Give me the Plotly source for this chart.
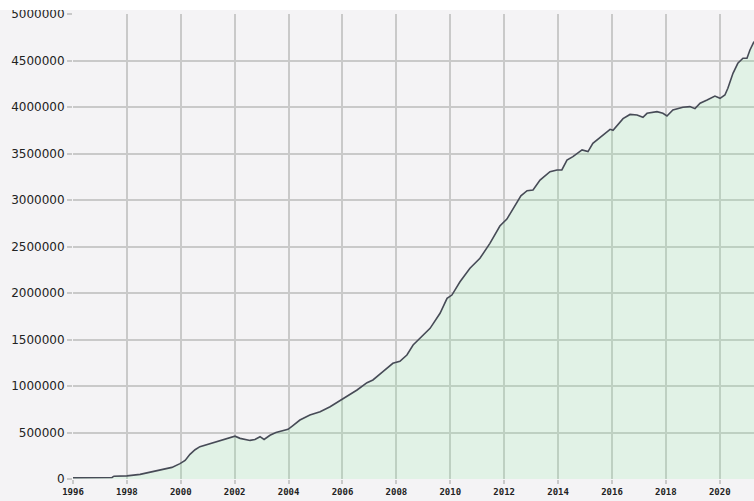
import plotly.graph_objects as go

years = [1996.0, 1997.0, 1997.45, 1997.52, 1998.0, 1998.49, 1998.97, 1999.41, 1999.67, 1999.97,
         2000.16, 2000.34, 2000.53, 2000.71, 2001.08, 2001.45, 2001.83, 2002.01, 2002.2, 2002.57,
         2002.75, 2002.94, 2003.09, 2003.31, 2003.53, 2003.79, 2003.98, 2004.16, 2004.42, 2004.79,
         2005.17, 2005.54, 2006.02, 2006.54, 2006.91, 2007.13, 2007.5, 2007.87, 2008.13, 2008.39,
         2008.62, 2008.88, 2009.06, 2009.25, 2009.62, 2009.88, 2010.06, 2010.36, 2010.73, 2011.1,
         2011.47, 2011.84, 2012.1, 2012.33, 2012.62, 2012.85, 2013.07, 2013.33, 2013.7, 2013.96,
         2014.14, 2014.33, 2014.55, 2014.89, 2015.11, 2015.29, 2015.67, 2015.93, 2016.04, 2016.19,
         2016.41, 2016.67, 2016.93, 2017.15, 2017.3, 2017.67, 2017.89, 2018.04, 2018.26, 2018.63,
         2018.89, 2019.08, 2019.27, 2019.53, 2019.82, 2020.01, 2020.19, 2020.3, 2020.49, 2020.67,
         2020.86, 2021.01, 2021.12, 2021.27]

values = [14000, 14000, 16000, 30000, 34000, 50000, 80000, 105000, 125000, 165000,
          200000, 265000, 315000, 348000, 380000, 405000, 440000, 460000, 437000, 415000,
          425000, 455000, 425000, 470000, 500000, 520000, 534000, 575000, 634000, 688000,
          724000, 777000, 867000, 957000, 1036000, 1065000, 1154000, 1244000, 1265000, 1333000,
          1441000, 1513000, 1560000, 1620000, 1782000, 1943000, 1978000, 2121000, 2266000, 2373000,
          2534000, 2720000, 2795000, 2911000, 3045000, 3100000, 3108000, 3215000, 3304000, 3323000,
          3323000, 3430000, 3466000, 3538000, 3520000, 3610000, 3699000, 3760000, 3750000, 3800000,
          3875000, 3920000, 3914000, 3889000, 3932000, 3950000, 3932000, 3903000, 3968000, 3997000,
          4004000, 3982000, 4040000, 4075000, 4118000, 4093000, 4129000, 4201000, 4362000, 4470000,
          4524000, 4524000, 4613000, 4703000]

x_ticks = [1996, 1998, 2000, 2002, 2004, 2006, 2008, 2010, 2012, 2014, 2016, 2018, 2020]
x_labels = [str(v) for v in x_ticks]
y_ticks = [0, 500000, 1000000, 1500000, 2000000, 2500000, 3000000, 3500000, 4000000, 4500000, 5000000]
y_labels = [str(v) for v in y_ticks]

fig = go.Figure()
fig.add_trace(go.Scatter(
    x=years, y=values, mode="lines",
    line=dict(color="#474b57", width=1.6),
    fill="tozeroy", fillcolor="rgba(150,242,168,0.2)",
    hoverinfo="skip", showlegend=False,
))

grid = "#c9c9c9"
fig.update_layout(
    width=754, height=501,
    margin=dict(l=73, r=0, t=14, b=22),
    paper_bgcolor="#f4f3f5",
    plot_bgcolor="#f4f3f5",
    xaxis=dict(
        range=[1996, 2021.27], tickvals=x_ticks, ticktext=x_labels,
        showgrid=True, gridcolor=grid, gridwidth=1.5,
        ticks="outside", ticklen=4, tickcolor=grid, tickwidth=1.5,
        tickfont=dict(family="DejaVu Sans Mono", size=9, color="#222222", weight="bold"),
        zeroline=False, showline=False, fixedrange=True,
    ),
    yaxis=dict(
        range=[0, 5000000], tickvals=y_ticks, ticktext=y_labels,
        showgrid=True, gridcolor=grid, gridwidth=1.5,
        ticks="outside", ticklen=5, tickcolor=grid, tickwidth=1.5,
        tickfont=dict(family="DejaVu Sans", size=12, color="#222222"),
        zeroline=False, showline=False, fixedrange=True,
    ),
    shapes=[dict(type="rect", xref="paper", yref="paper", x0=-0.2, x1=1.1,
                 y0=1.0 + 4 / 465, y1=1.1, fillcolor="white", line=dict(width=0), layer="above")],
)

fig.write_html("out.html", config={"displayModeBar": False},
               post_script="document.body.style.margin='0';document.body.style.overflow='hidden';")
